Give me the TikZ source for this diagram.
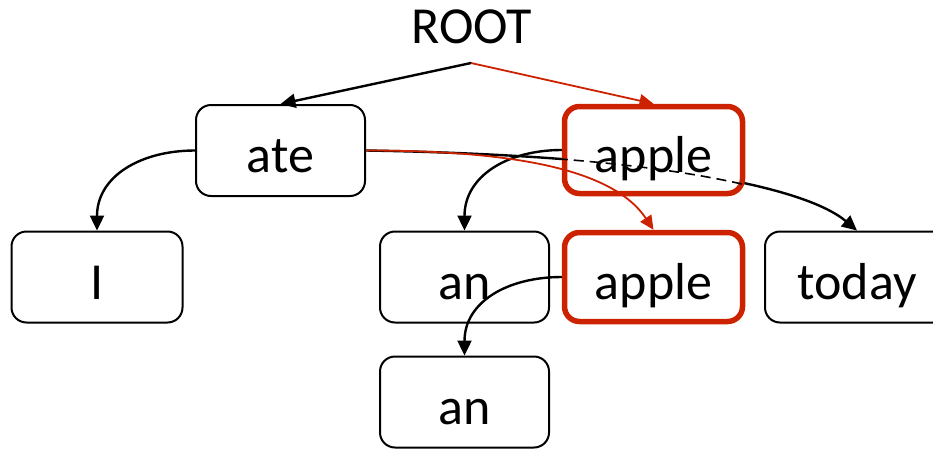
\documentclass[tikz,border=0pt]{standalone}
\usepackage{fontspec}
\setmainfont{Carlito}
\usetikzlibrary{arrows.meta}
\definecolor{hl}{RGB}{204,34,0}
\begin{document}
\begin{tikzpicture}[x=1pt,y=-1pt,
  box/.style={draw=black, line width=2pt, rounded corners=15pt, fill=white, inner sep=0pt,
    minimum width=169pt, minimum height=91pt, text height=44pt, text depth=0pt,
    font=\fontsize{52}{60}\selectfont},
  redbox/.style={box, draw=hl, line width=5.5pt, minimum width=178pt, minimum height=87pt},
  blk/.style={line width=2.4pt, -{Triangle[length=15pt,width=14pt]}},
  redarr/.style={draw=hl, line width=1.8pt, -{Triangle[length=14pt,width=13pt]}, color=hl}]
\useasboundingbox (0,0) rectangle (933,450);
\node[anchor=base, font=\fontsize{52}{60}\selectfont, inner sep=0pt] (root) at (471.5,43) {ROOT};
\coordinate (rootpt) at (471,63);
\node[box] (ate) at (280.5,150.5) {ate};
\node[box, minimum width=171pt] (I) at (97,277) {I};
\node[box] (an1) at (464.5,277) {an};
\node[box, minimum width=184pt] (today) at (857,277) {today};
\node[box] (an2) at (464.5,402) {an};
\node[redbox, minimum height=89pt] (apple2) at (653.5,277) {apple};
% ate -> today (passes behind apple)
\draw[blk] (ate.east) .. controls +(300,5) and +(-50,-42) .. (today.north);
\node[redbox] (apple1) at (653.5,150) {apple};
\begin{scope}
\clip (apple1.north west) rectangle (apple1.south east);
\draw[line width=1.6pt, dash pattern=on 10pt off 6pt] (ate.east) .. controls +(300,5) and +(-50,-42) .. (today.north);
\end{scope}
% other edges
\draw[blk] (rootpt) -- (ate.north);
\draw[redarr] (rootpt) -- (apple1.north);
\draw[blk] (ate.west) to[out=180,in=90,looseness=1.1] (I.north);
\draw[blk] (apple1.west) to[out=180,in=90,looseness=1.1] (an1.north);
\draw[blk] (apple2.west) to[out=180,in=90,looseness=1.1] (an2.north);
\draw[redarr] (ate.east) .. controls +(150,0) and +(-40,-60) .. (apple2.north);
\end{tikzpicture}
\end{document}
